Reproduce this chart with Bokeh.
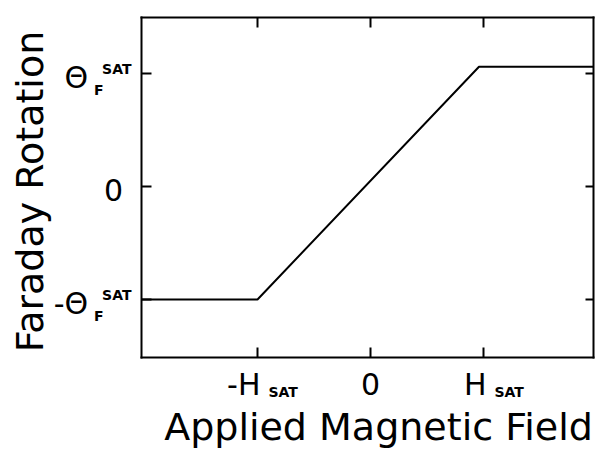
import math
from bokeh.plotting import figure
from bokeh.models import Label, LinearAxis, FixedTicker, Range1d
from bokeh.embed import file_html
from bokeh.resources import INLINE

# Data (in units of H_SAT and Theta_F^SAT)
field = [-2.03, -1.0, 0.96, 1.97]
rotation = [-1.0, -1.0, 1.06, 1.06]
x_ticks = [-1, 0, 1]
y_ticks = [-1, 0, 1]
x_tick_main = ["-H", "0", "H"]
x_tick_sub = ["SAT", "", "SAT"]
y_tick_main = ["-Θ", "0", "Θ"]
y_tick_sub = ["F", "", "F"]
y_tick_sup = ["SAT", "", "SAT"]
x_title = "Applied Magnetic Field"
y_title = "Faraday Rotation"

FONT = "DejaVu Sans"
# plot box (data coordinates)
X0, X1 = -2.03, 1.97
Y0, Y1 = -1.513, 1.496

p = figure(width=601, height=450, output_backend="svg", toolbar_location=None,
           x_range=Range1d(-3.274, 2.044), y_range=Range1d(-2.336, 1.646),
           x_axis_location=None, y_axis_location=None,
           min_border_left=0, min_border_right=0, min_border_top=0, min_border_bottom=0)
p.background_fill_color = "white"
p.border_fill_color = "white"
p.outline_line_color = None
p.grid.visible = False

p.line(field, rotation, line_color="black", line_width=2)

def box_axis(loc, bounds, tick_len, place):
    ax = LinearAxis(fixed_location=loc, bounds=bounds)
    ax.ticker = FixedTicker(ticks=x_ticks)
    ax.major_tick_in = tick_len
    ax.major_tick_out = 0
    ax.minor_tick_in = 0
    ax.minor_tick_out = 0
    ax.axis_line_color = "black"
    ax.axis_line_width = 2
    ax.axis_line_cap = "square"
    ax.major_tick_line_color = "black"
    ax.major_tick_line_width = 2
    ax.major_label_overrides = {-1: "", 0: "", 1: ""}
    ax.major_label_text_font_size = "0px"
    ax.major_label_standoff = 0
    p.add_layout(ax, place)
    return ax

box_axis(Y0, (X0, X1), 10, "below")
box_axis(Y1, (X0, X1), 10, "above")
box_axis(X0, (Y0, Y1), 10, "left")
box_axis(X1, (Y0, Y1), 8, "right")

def lab(**kw):
    kw.setdefault("text_font", FONT)
    kw.setdefault("text_color", "black")
    kw.setdefault("text_baseline", "alphabetic")
    p.add_layout(Label(**kw))

# x tick labels
for xv, main, sub in zip(x_ticks, x_tick_main, x_tick_sub):
    if sub:
        lab(x=xv, y=Y0, text=main, text_font_size="30px", text_align="right",
            x_offset=3, y_offset=-27)
        lab(x=xv, y=Y0, text=sub, text_font_size="14px", text_font_style="bold",
            text_align="left", x_offset=11, y_offset=-35)
    else:
        lab(x=xv, y=Y0, text=main, text_font_size="30px", text_align="center",
            y_offset=-27)

# y tick labels
for yv, main, sub, sup in zip(y_ticks, y_tick_main, y_tick_sub, y_tick_sup):
    if sub:
        lab(x=X0, y=yv, text=main, text_font_size="30px", text_align="right",
            x_offset=-53, y_offset=-4)
        lab(x=X0, y=yv, text=sub, text_font_size="14px", text_font_style="bold",
            text_align="left", x_offset=-47, y_offset=-16)
        lab(x=X0, y=yv, text=sup, text_font_size="14px", text_font_style="bold",
            text_align="left", x_offset=-39, y_offset=5)
    else:
        lab(x=X0, y=yv, text=main, text_font_size="30px", text_align="right",
            text_baseline="middle", x_offset=-18, y_offset=-3)

# axis titles
lab(x=0, y=Y0, text=x_title, text_font_size="38px", text_align="center",
    x_offset=8, y_offset=-70)
lab(x=X0, y=0, text=y_title, text_font_size="38px", text_align="center",
    angle=math.pi / 2, x_offset=-111, y_offset=-5)

open("out.html", "w").write(file_html(p, INLINE))
